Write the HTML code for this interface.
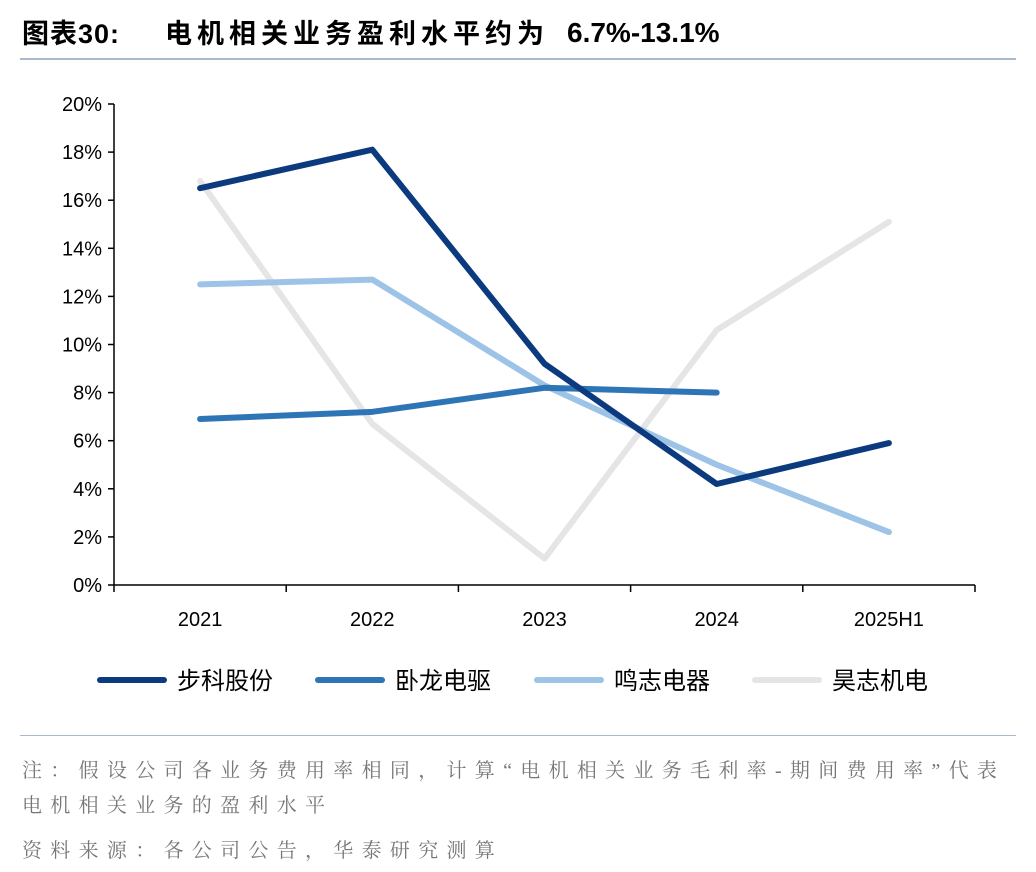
<!DOCTYPE html>
<html><head><meta charset="utf-8">
<style>
body{margin:0;background:#fff;width:1036px;height:872px;overflow:hidden;font-family:"Liberation Sans","Noto Sans CJK SC",sans-serif;}
#title{position:absolute;left:22px;top:12px;font-size:27px;font-weight:bold;color:#000;white-space:nowrap;}
.rule{position:absolute;left:20px;width:996px;height:2px;background:#a9b8cc;}
.note{position:absolute;left:22px;font-size:20px;color:#777;letter-spacing:8.3px;white-space:nowrap;font-family:"Liberation Serif","Noto Serif CJK SC",serif;}
</style></head><body>
<div id="title"><span style="letter-spacing:1px">图表30:</span><span style="position:absolute;left:143px;letter-spacing:5px">电机相关业务盈利水平约为</span><span style="position:absolute;left:545px;top:5px;font-size:28px">6.7%-13.1%</span></div>
<div class="rule" style="top:58px"></div>
<svg id="chart" width="1036" height="720" style="position:absolute;left:0;top:0"></svg>
<div class="rule" style="top:735px;height:1px"></div>
<div class="note" style="top:754px">注：假设公司各业务费用率相同，计算“电机相关业务毛利率-期间费用率”代表</div>
<div class="note" style="top:789px">电机相关业务的盈利水平</div>
<div class="note" style="top:834px">资料来源：各公司公告，华泰研究测算</div>
<script>
const categories=["2021","2022","2023","2024","2025H1"];
const yTicks=[0,2,4,6,8,10,12,14,16,18,20];
const seriesNames=["步科股份","卧龙电驱","鸣志电器","昊志机电"];
const buke=[16.5,18.1,9.2,4.2,5.9];
const wolong=[6.9,7.2,8.2,8.0,null];
const mingzhi=[12.5,12.7,8.3,5.0,2.2];
const haozhi=[16.8,6.7,1.1,10.6,15.1];
const colors=["#0b3a7e","#2e75b6","#9dc3e6","#e5e5e5"];
const svg=document.getElementById('chart');
const NS='http://www.w3.org/2000/svg';
const x0=114,x1=975,yb=585,yt=104;
const band=(x1-x0)/categories.length;
const X=i=>x0+band*(i+0.5);
const Y=v=>yb-(v/20)*(yb-yt);
function mk(t,a){const e=document.createElementNS(NS,t);for(const k in a)e.setAttribute(k,a[k]);svg.appendChild(e);return e;}
let ax=mk('line',{x1:x0,x2:x0,y1:yt,y2:yb,stroke:'#000','stroke-width':1.5});

let bx=mk('line',{x1:x0,x2:x1,y1:yb,y2:yb,stroke:'#000','stroke-width':1.5});

yTicks.forEach(v=>{
 const t=mk('line',{x1:x0-6,x2:x0,y1:Y(v),y2:Y(v),stroke:'#000','stroke-width':1.5});
 
 const l=mk('text',{x:x0-12,y:Y(v)+7,'text-anchor':'end','font-size':20,fill:'#000'});
 l.textContent=v+'%';
 
});
for(let i=0;i<=categories.length;i++){
 const t=mk('line',{x1:x0+band*i,x2:x0+band*i,y1:yb,y2:yb+7,stroke:'#000','stroke-width':1.5});
 
}
categories.forEach((c,i)=>{
 const l=mk('text',{x:X(i),y:626,'text-anchor':'middle','font-size':20,fill:'#000'});
 l.textContent=c;
 
});
const data=[buke,wolong,mingzhi,haozhi];
[3,2,1,0].forEach(s=>{
 const pts=[];data[s].forEach((v,i)=>{if(v!==null)pts.push(X(i)+','+Y(v));});
 const p=mk('polyline',{points:pts.join(' '),fill:'none',stroke:colors[s],'stroke-width':6,'stroke-linejoin':'round','stroke-linecap':'round'});
 
});
const lx=[100,318,537,755];
seriesNames.forEach((n,s)=>{
 const l=mk('line',{x1:lx[s],x2:lx[s]+64,y1:680,y2:680,stroke:colors[s],'stroke-width':6,'stroke-linecap':'round'});
 
 const t=mk('text',{x:lx[s]+77,y:689,'font-size':24,fill:'#000'});
 t.textContent=n;
 
});
</script>
</body></html>
